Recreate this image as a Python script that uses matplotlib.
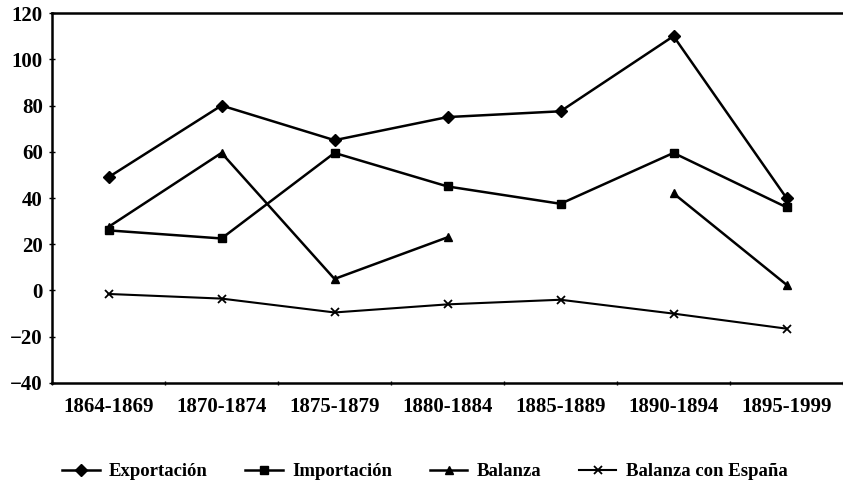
import numpy as np
import matplotlib.pyplot as plt

# Datos
periodos = ['1864-1869', '1870-1874', '1875-1879', '1880-1884',
            '1885-1889', '1890-1894', '1895-1999']
exportacion = [49, 80, 65, 75, 77.5, 110, 40]
importacion = [26, 22.5, 59.5, 45, 37.5, 59.5, 36]
balanza = [27.5, 59.5, 5, 23, np.nan, 42, 2.5]
balanza_espana = [-1.5, -3.5, -9.5, -6, -4, -10, -16.5]

plt.rcParams['font.family'] = ['Liberation Serif', 'DejaVu Serif']
plt.rcParams['font.weight'] = 'bold'

fig = plt.figure(figsize=(8.43, 4.97), dpi=100)
ax = fig.add_axes([0.0617, 0.2294, 0.9383, 0.7444])

x = np.arange(len(periodos)) + 0.5
ax.plot(x, exportacion, color='black', lw=1.8, marker='D', ms=6, label='Exportación')
ax.plot(x, importacion, color='black', lw=1.8, marker='s', ms=6, label='Importación')
ax.plot(x, balanza, color='black', lw=1.8, marker='^', ms=6, label='Balanza')
ax.plot(x, balanza_espana, color='black', lw=1.5, marker='x', ms=6, mew=1.3,
        label='Balanza con España')

ax.set_xlim(0, len(periodos))
ax.set_ylim(-40, 120)
ax.set_yticks(np.arange(-40, 121, 20))
ax.set_xticks(np.arange(0, len(periodos) + 1))
ax.set_xticklabels([])
ax.set_xticks(x, minor=True)
ax.set_xticklabels(periodos, minor=True, fontsize=15)
ax.tick_params(axis='x', which='minor', length=0, pad=10)
ax.tick_params(axis='x', which='major', length=3, direction='inout', width=1)
ax.tick_params(axis='y', labelsize=15, length=5, direction='inout', width=1, pad=4)

for side in ['left', 'bottom', 'top']:
    ax.spines[side].set_linewidth(1.8)
ax.spines['right'].set_visible(False)

fig.legend(loc='lower center', ncol=4, frameon=False,
           bbox_to_anchor=(0.504, 0.0), handlelength=2.0, handletextpad=0.5,
           columnspacing=2.0,
           prop={'weight': 'bold', 'size': 13.5})

fig.savefig('out.png', dpi=100)
